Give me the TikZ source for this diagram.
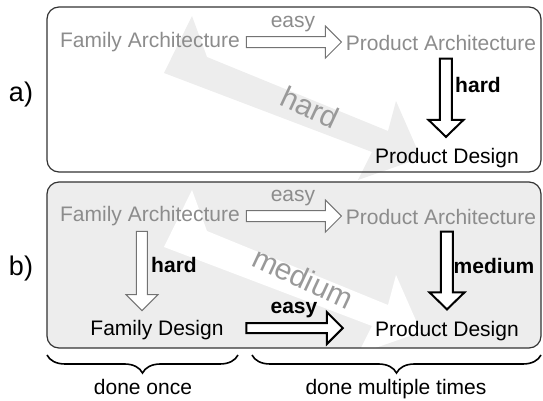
\documentclass[tikz,border=0pt]{standalone}
\usepackage{fontspec}
\setmainfont{Liberation Sans}
\usetikzlibrary{calc,decorations.pathreplacing}

\begin{document}
\begin{tikzpicture}[x=0.5pt,y=-0.5pt,
  txt/.style={font=\fontsize{10.5}{12}\selectfont,inner sep=0pt,anchor=base},
  faded/.style={txt,text=black!45},
  strong/.style={txt,font=\fontsize{10.5}{12}\selectfont\bfseries},
  tag/.style={font=\fontsize{13.5}{15}\selectfont,inner sep=0pt,anchor=base},
  slanted/.style={font=\fontsize{15}{17}\selectfont,text=black!40,inner sep=0pt,rotate=-25},
  panel/.style={rounded corners=6pt,draw=black!80,line width=0.6pt},
  blk/.style n args={3}{to path={
    ($(\tikztostart)!#1!90:(\tikztotarget)$)
    -- ($($(\tikztotarget)!#3!(\tikztostart)$)!#1!-90:(\tikztostart)$)
    -- ($($(\tikztotarget)!#3!(\tikztostart)$)!#2!-90:(\tikztostart)$)
    -- (\tikztotarget)
    -- ($($(\tikztotarget)!#3!(\tikztostart)$)!#2!90:(\tikztostart)$)
    -- ($($(\tikztotarget)!#3!(\tikztostart)$)!#1!90:(\tikztostart)$)
    -- ($(\tikztostart)!#1!-90:(\tikztotarget)$)
    -- cycle}},
  thinblk/.style={draw=black!55,line width=0.5pt,fill=white},
  thickblk/.style={draw=black,line width=1pt,fill=white},
  brc/.style={decorate,decoration={brace,mirror,amplitude=9pt},line width=0.8pt},
  bigarrow/.pic={\fill[pic actions] (192,16) -- (207,57) -- (388,131) -- (396,101)
    -- (421,158) -- (358,180) -- (372,152) -- (164,73) -- cycle;}
]
\useasboundingbox (0,0) rectangle (543,401);

% backgrounds and the wide arrows
\fill[black!7,rounded corners=6pt] (47,182) rectangle (541,348);
\pic[fill=black!7] at (0,0) {bigarrow};
\pic[fill=white] at (0,174) {bigarrow};
\draw[panel] (47,7) rectangle (541,172);
\draw[panel] (47,182) rectangle (541,348);

% a)
\node[tag] (tagA) at (21,102) {a)};
\node[slanted] (hardX) at (310,107) {hard};
\node[faded] (famA) at (150,47.5) {Family Architecture};
\node[faded] (prodA) at (441,50.5) {Product Architecture};
\node[txt] (prodD) at (447,164) {Product Design};
\node[faded] (easyA) at (293,28) {easy};
\node[strong] (hardA) at (478,93) {hard};

\draw[thinblk] ($(famA.east)+(6,0)$) to[blk={2.75pt}{8pt}{8pt}] ($(prodA.west |- famA.east)+(-4,0)$);
\draw[thickblk] ($(prodD.north |- prodA.south)+(-1,7.5)$) to[blk={3pt}{8.75pt}{8.5pt}] ($(prodD.north)+(-1,-11.5)$);

% b)
\node[tag] (tagB) at (21,276) {b)};
\node[slanted] (medX) at (303,278) {medium};
\node[faded] (famAb) at (150,221.5) {Family Architecture};
\node[faded] (prodAb) at (441,224.5) {Product Architecture};
\node[txt] (famD) at (157,336) {Family Design};
\node[txt] (prodDb) at (447,337) {Product Design};
\node[faded] (easyB) at (293,202) {easy};
\node[strong] (hardB) at (174,273) {hard};
\node[strong] (medB) at (494,274) {medium};
\node[strong] (easyC) at (294,314) {easy};

\draw[thinblk] ($(famAb.east)+(6,0)$) to[blk={2.75pt}{8pt}{8pt}] ($(prodAb.west |- famAb.east)+(-4,0)$);
\draw[thinblk] ($(famAb.south)+(-8,5)$) to[blk={2.75pt}{8pt}{8pt}] ($(famAb.south |- famD.north)+(-8,-9.7)$);
\draw[thickblk] ($(prodDb.north |- prodAb.south)+(0,6.5)$) to[blk={3pt}{8.75pt}{8.5pt}] ($(prodDb.north)+(0,-12)$);
\draw[thickblk] ($(famD.east)+(22.5,-2.5)$) to[blk={2.5pt}{8pt}{8pt}] ($(prodDb.west |- famD.east)+(-32,-2.5)$);

% braces
\draw[brc] (47,355) -- (238,355);
\draw[brc] (252,355) -- (541,355);
\node[txt] (once) at (143,395) {done once};
\node[txt] (multi) at (396,395) {done multiple times};
\end{tikzpicture}
\end{document}
